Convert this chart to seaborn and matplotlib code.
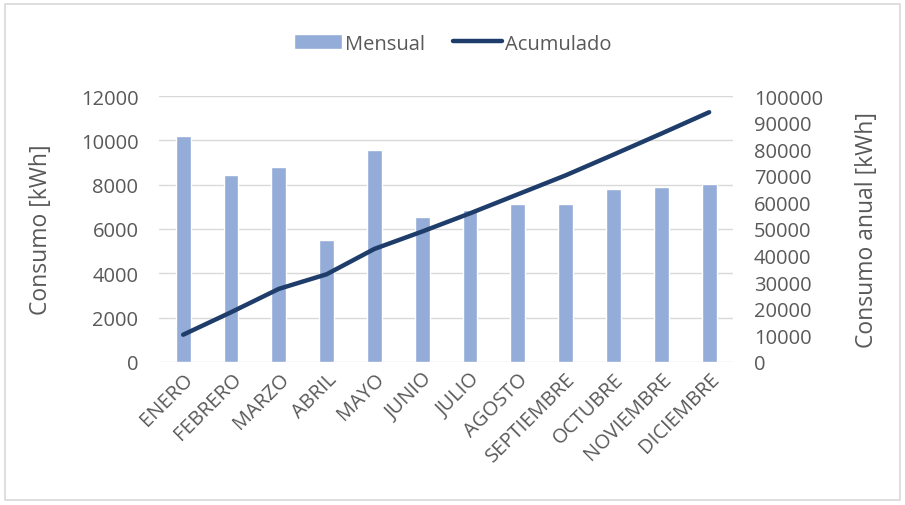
# %%
# Consumo mensual y acumulado (barras + línea en eje secundario)
import matplotlib.pyplot as plt
import pandas as pd
import seaborn as sns
from matplotlib.patches import Rectangle

meses = ["ENERO", "FEBRERO", "MARZO", "ABRIL", "MAYO", "JUNIO", "JULIO",
         "AGOSTO", "SEPTIEMBRE", "OCTUBRE", "NOVIEMBRE", "DICIEMBRE"]
mensual = [10200, 8450, 8800, 5500, 9550, 6550, 6850, 7150, 7150, 7800, 7900, 8050]
acumulado = [10200, 18650, 27450, 32950, 42500, 49050, 55900, 63050, 70200,
             78000, 85900, 93950]

left_ticks = list(range(0, 12001, 2000))
right_ticks = list(range(0, 100001, 10000))

df = pd.DataFrame({"mes": meses, "mensual": mensual, "acumulado": acumulado})

sns.set_theme(style="white")
plt.rcParams["font.family"] = ["Open Sans", "DejaVu Sans"]

bar_color = "#93ACD8"
line_color = "#1F3D6B"
text_color = "#595959"

fig = plt.figure(figsize=(9.05, 5.06), dpi=100)
ax = fig.add_axes([0.176, 0.283, 0.634, 0.525])

sns.barplot(data=df, x="mes", y="mensual", color=bar_color, width=0.31,
            saturation=1, ax=ax, label="Mensual", zorder=2)

ax2 = ax.twinx()
sns.lineplot(data=df, x="mes", y="acumulado", color=line_color, linewidth=3.2,
             sort=False, ax=ax2, label="Acumulado", zorder=3)

ax.set_ylim(0, 12000)
ax.set_yticks(left_ticks)
ax2.set_ylim(0, 100000)
ax2.set_yticks(right_ticks)
ax.set_xlim(-0.5, len(meses) - 0.5)

ax.yaxis.grid(True, color="#D9D9D9", linewidth=1)
ax.set_axisbelow(True)
for a in (ax, ax2):
    for s in a.spines.values():
        s.set_visible(False)
    a.tick_params(axis="y", length=0, labelsize=14.5, colors=text_color, pad=15)
ax.tick_params(axis="x", length=0, pad=5)

ax.set_xlabel("")
ax.set_ylabel("Consumo [kWh]", fontsize=16.5, color=text_color)
ax2.set_ylabel("Consumo anual [kWh]", fontsize=16.5, color=text_color)
ax.yaxis.set_label_coords(-0.185, 0.5)
ax2.yaxis.set_label_coords(1.213, 0.5)
ax.set_xticks(range(len(meses)))
ax.set_xticklabels(meses, rotation=45, ha="right", rotation_mode="anchor",
                   fontsize=14.5, color=text_color)

ax2.get_legend().remove()
h1, l1 = ax.get_legend_handles_labels()
h2, l2 = ax2.get_legend_handles_labels()
if ax.get_legend():
    ax.get_legend().remove()
fig.legend(h1 + h2, l1 + l2, loc="center", bbox_to_anchor=(0.5, 0.912), ncol=2,
           frameon=False, fontsize=14.5, labelcolor=text_color,
           handlelength=2.4, handletextpad=0.15, columnspacing=1.4)

fig.patches.append(Rectangle((0.006, 0.01), 0.988, 0.98, transform=fig.transFigure,
                             fill=False, edgecolor="#D9D9D9", linewidth=1.2))

fig.savefig("out.png", dpi=100)
plt.close(fig)
